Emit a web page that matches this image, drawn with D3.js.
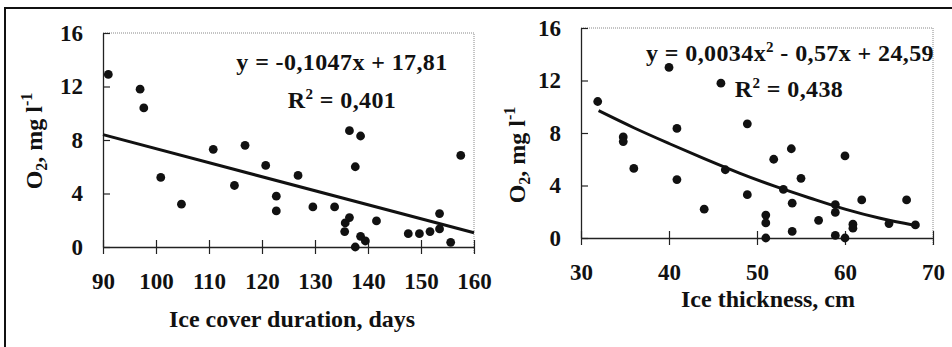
<!DOCTYPE html>
<html>
<head>
<meta charset="utf-8">
<script src="https://cdn.jsdelivr.net/npm/d3@7"></script>
<style>
  body { margin: 0; background: #fff; }
  svg text { font-family: "Liberation Serif", "Times New Roman", serif; font-weight: bold; fill: #111; }
</style>
</head>
<body>
<div id="chart"></div>
<script>
var svgWidth = 952;
var svgHeight = 347;

// left panel: ice cover duration (days) vs O2
var durDays = [91, 97, 97.7, 100.9, 104.8, 110.8, 114.8, 116.8, 120.7, 122.7, 122.7, 126.8,
    129.6, 133.7, 135.6, 135.7, 136.5, 136.5, 137.6, 137.6, 138.6, 138.6, 139.5, 141.6,
    147.6, 149.7, 151.7, 153.5, 153.5, 155.6, 157.5];
var durO2 = [12.9, 11.8, 10.4, 5.2, 3.2, 7.3, 4.6, 7.6, 6.1, 3.8, 2.7, 5.35,
    3.0, 3.0, 1.15, 1.8, 2.2, 8.7, 6.0, 0.0, 8.3, 0.8, 0.45, 1.95,
    1.0, 1.0, 1.15, 2.5, 1.35, 0.35, 6.85];

// right panel: ice thickness (cm) vs O2
var thickCm = [31.9, 34.8, 34.8, 36, 40, 40.9, 40.9, 44, 45.9, 46.4, 48.9, 48.9, 51, 51, 51,
    51.9, 53, 53.9, 54, 54, 55, 57, 58.9, 58.9, 58.9, 60, 60, 60.9, 60.9, 61.9, 65, 67, 68];
var thickO2 = [10.4, 7.7, 7.35, 5.3, 13.0, 8.35, 4.45, 2.2, 11.8, 5.2, 8.7, 3.3, 1.75, 1.15, 0.0,
    6.0, 3.7, 6.8, 2.65, 0.5, 4.55, 1.35, 2.55, 1.95, 0.2, 6.25, 0.0, 1.05, 0.75, 2.9, 1.1, 2.9, 1.0];

var yTicks = [0, 4, 8, 12, 16];
var durTicks = [90, 100, 110, 120, 130, 140, 150, 160];
var thickTicks = [30, 40, 50, 60, 70];

// trend lines as drawn on the picture
var linTrendX = [90, 160];
var linTrendY = [8.4, 1.06];
var quadTrendX = [32, 36, 40, 44, 48, 52, 56, 60, 64, 68];
var quadTrendY = [9.7, 8.4, 7.2, 6.05, 4.95, 3.95, 3.05, 2.2, 1.5, 0.95];

var svg = d3.select("#chart")
    .append("svg")
    .attr("width", svgWidth)
    .attr("height", svgHeight);

// outer frame (top and left edge only)
svg.append("path")
    .attr("d", "M5,347 L5,8 L952,8")
    .attr("fill", "none")
    .attr("stroke", "#111")
    .attr("stroke-width", 2);

function drawPanel(opt) {
    var g = svg.append("g");
    var x = d3.scaleLinear().domain(opt.xDomain).range(opt.xRange);
    var y = d3.scaleLinear().domain([0, 16]).range(opt.yRange);

    // dotted plot border top/right
    g.append("path")
        .attr("d", `M${x.range()[0]},${y(16)} L${x.range()[1]},${y(16)} L${x.range()[1]},${y(0) + 7}`)
        .attr("fill", "none")
        .attr("stroke", "#888")
        .attr("stroke-width", 1)
        .attr("stroke-dasharray", "1,1");

    var xAxis = g.append("g")
        .attr("transform", `translate(0, ${y(0)})`)
        .call(d3.axisBottom(x).tickValues(opt.xTicks).tickSize(7).tickPadding(19).tickSizeOuter(0));
    xAxis.selectAll(".tick line").attr("y1", -7);

    var yAxis = g.append("g")
        .attr("transform", `translate(${x.range()[0]}, 0)`)
        .call(d3.axisLeft(y).tickValues(yTicks).tickSize(7).tickPadding(13).tickSizeOuter(0));
    yAxis.selectAll(".tick line").attr("x2", 7);

    xAxis.attr("font-family", null).attr("font-size", null);
    yAxis.attr("font-family", null).attr("font-size", null);
    g.selectAll(".domain").attr("stroke", "#222").attr("stroke-width", 1.3);
    g.selectAll(".tick line").attr("stroke", "#222").attr("stroke-width", 1.2);
    g.selectAll(".tick text")
        .style("font-size", "23px")
        .attr("fill", "#111");

    // trend line
    var line = d3.line().x(d => x(d[0])).y(d => y(d[1])).curve(d3.curveMonotoneX);
    g.append("path")
        .datum(opt.trendX.map((v, i) => [v, opt.trendY[i]]))
        .attr("d", line)
        .attr("fill", "none")
        .attr("stroke", "#111")
        .attr("stroke-width", 3);

    // points
    g.selectAll("circle.pt")
        .data(opt.xs)
        .enter()
        .append("circle")
        .attr("class", "pt")
        .attr("cx", d => x(d))
        .attr("cy", (d, i) => y(opt.ys[i]))
        .attr("r", 4.4)
        .attr("fill", "#111");

    // axis titles
    g.append("text")
        .attr("x", opt.xTitlePos[0])
        .attr("y", opt.xTitlePos[1])
        .attr("text-anchor", "middle")
        .style("font-size", "24px")
        .text(opt.xTitle);

    var yt = g.append("text")
        .attr("transform", `translate(${opt.yTitlePos[0]}, ${opt.yTitlePos[1]}) rotate(-90)`)
        .attr("text-anchor", "middle")
        .style("font-size", "24px");
    yt.append("tspan").text("O");
    yt.append("tspan").attr("dy", 5).style("font-size", "16px").text("2");
    yt.append("tspan").attr("dy", -5).text(", mg l");
    yt.append("tspan").attr("dy", -10).style("font-size", "16px").text("-1");

    // equation
    var eq = g.append("text")
        .attr("x", opt.eqPos[0])
        .attr("y", opt.eqPos[1])
        .attr("text-anchor", "middle")
        .style("font-size", "24px")
        .style("letter-spacing", "0.4px");
    opt.eqParts.forEach(function (p) {
        var t = eq.append("tspan").text(p[0]);
        if (p[1] === "sup") t.attr("dy", -9).style("font-size", "15px");
        if (p[1] === "back") t.attr("dy", 9);
    });

    var r2 = g.append("text")
        .attr("x", opt.r2Pos[0])
        .attr("y", opt.r2Pos[1])
        .attr("text-anchor", "middle")
        .style("font-size", "24px")
        .style("letter-spacing", "0.4px");
    r2.append("tspan").text("R");
    r2.append("tspan").attr("dy", -9).style("font-size", "15px").text("2");
    r2.append("tspan").attr("dy", 9).text(" = " + opt.r2);
}

drawPanel({
    xDomain: [90, 160], xRange: [103, 474], yRange: [247, 33],
    xTicks: durTicks, xs: durDays, ys: durO2, trendX: linTrendX, trendY: linTrendY,
    xTitle: "Ice cover duration, days", xTitlePos: [292, 327],
    yTitlePos: [42, 141],
    eqPos: [342, 70], eqParts: [["y = -0,1047x + 17,81", ""]],
    r2Pos: [342, 108], r2: "0,401"
});

drawPanel({
    xDomain: [30, 70], xRange: [581, 933], yRange: [238, 28],
    xTicks: thickTicks, xs: thickCm, ys: thickO2, trendX: quadTrendX, trendY: quadTrendY,
    xTitle: "Ice thickness, cm", xTitlePos: [768, 307],
    yTitlePos: [525, 155],
    eqPos: [790, 61], eqParts: [["y = 0,0034x", ""], ["2", "sup"], [" - 0,57x + 24,59", "back"]],
    r2Pos: [789, 97], r2: "0,438"
});
</script>
</body>
</html>
